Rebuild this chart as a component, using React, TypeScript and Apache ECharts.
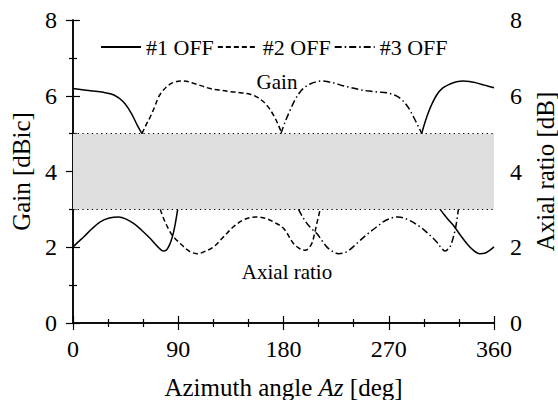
import React, { useEffect, useRef } from "react";
import * as echarts from "echarts";

const FONT = "'Liberation Serif', 'Times New Roman', serif";

const xTicks = [0, 90, 180, 270, 360];
const yTicks = [0, 2, 4, 6, 8];
const legendNames = ["#1 OFF", "#2 OFF", "#3 OFF"];
const bandRange = [3, 5];

// Gain [dBic] curves (azimuth deg, value)
const gain1a = [[0, 6.19], [8, 6.16], [15, 6.13], [26, 6.09], [35, 6.02], [43, 5.84], [50, 5.53], [55, 5.22], [59, 5.0]];
const gain1b = [[298.2, 5.0], [300, 5.2], [302.5, 5.44], [306, 5.72], [311, 6.02], [316, 6.2], [322.4, 6.31], [328, 6.37], [333.8, 6.39], [340, 6.37], [345, 6.34], [352, 6.28], [360, 6.21]];
const gain2 = [[59, 5.0], [62, 5.2], [66, 5.44], [70, 5.72], [73.2, 5.97], [77, 6.14], [81.7, 6.28], [86, 6.35], [91.7, 6.39], [97, 6.38], [103, 6.33], [110, 6.26], [117.3, 6.19], [125, 6.15], [134.4, 6.11], [143, 6.08], [151.5, 6.04], [157, 5.97], [162.9, 5.84], [167, 5.7], [171.4, 5.49], [175, 5.27], [178.6, 5.0]];
const gain3 = [[177.8, 5.0], [181, 5.28], [185.7, 5.62], [190, 5.9], [194.2, 6.1], [198, 6.22], [202.8, 6.31], [207, 6.36], [212.8, 6.39], [218, 6.37], [224.1, 6.33], [230, 6.27], [237, 6.22], [244, 6.17], [251.2, 6.13], [260, 6.1], [268.3, 6.08], [272, 6.05], [276.9, 5.99], [281, 5.9], [285.4, 5.75], [289, 5.57], [292.5, 5.36], [296, 5.15], [298.2, 5.0]];

// Axial ratio [dB] curves
const ar1a = [[0, 2.01], [4, 2.13], [9.1, 2.27], [16, 2.48], [23.3, 2.67], [31, 2.77], [39, 2.8], [45, 2.75], [51.8, 2.63], [58, 2.47], [66.1, 2.23], [72, 2.03], [77.4, 1.9], [80, 1.93], [81.7, 2.01], [84, 2.18], [86, 2.4], [87.8, 2.68], [89.5, 3.0]];
const ar1b = [[313.9, 3.0], [317, 2.88], [320, 2.76], [325.2, 2.58], [331, 2.33], [336.7, 2.1], [342, 1.93], [348, 1.83], [352, 1.84], [356, 1.91], [360, 2.01]];
const ar2 = [[74.6, 3.0], [78, 2.72], [83.1, 2.4], [87, 2.24], [91.7, 2.1], [97, 1.95], [101, 1.87], [106, 1.83], [112, 1.88], [120.2, 2.01], [128, 2.25], [137.2, 2.54], [145, 2.71], [151, 2.78], [157.2, 2.8], [165, 2.76], [172, 2.66], [180, 2.5], [188.5, 2.1], [194, 1.96], [198.5, 1.92], [201, 1.96], [204.2, 2.1], [206.5, 2.35], [208.5, 2.63], [210, 2.82], [211.3, 3.0]];
const ar3 = [[192.8, 3.0], [196, 2.82], [200, 2.63], [204, 2.49], [208.5, 2.36], [213, 2.17], [217, 2.01], [222, 1.89], [227, 1.83], [234, 1.88], [242.7, 2.1], [251, 2.33], [259.8, 2.54], [268, 2.72], [278.2, 2.8], [287, 2.72], [296.8, 2.54], [304, 2.35], [311, 2.14], [315, 1.98], [318.1, 1.9], [320, 1.93], [322.4, 2.01], [324.6, 2.2], [326.7, 2.45], [328.3, 2.72], [329.5, 3.0]];

const styles: Record<string, any> = {
  "#1 OFF": "solid",
  "#2 OFF": [5, 3],
  "#3 OFF": [7, 3, 1.5, 3],
};

function lineSeries(name: string, data: number[][]) {
  return {
    type: "line",
    name,
    data,
    smooth: 0.35,
    symbol: "none",
    z: 3,
    lineStyle: { color: "#000", width: 1.5, type: styles[name] },
    itemStyle: { color: "#000" },
  };
}

export default function App() {
  const ref = useRef<HTMLDivElement>(null);
  useEffect(() => {
    document.body.style.margin = "0";
    const chart = echarts.init(ref.current!, undefined, { renderer: "svg" });
    const axisLine = { show: true, lineStyle: { color: "#000", width: 1.5 } };
    const label = { color: "#000", fontSize: 24, fontFamily: FONT, margin: 14 };
    const nameStyle = { color: "#000", fontSize: 25, fontFamily: FONT };
    const xBase = {
      type: "value",
      min: xTicks[0],
      max: xTicks[xTicks.length - 1],
      interval: 90,
      axisLine,
      axisTick: { show: true, inside: true, length: 7, lineStyle: { color: "#000", width: 1.2 } },
      minorTick: { show: true, splitNumber: 3, length: 4, lineStyle: { color: "#000", width: 1.2 } },
      splitLine: { show: false },
    };
    const yBase = {
      type: "value",
      min: yTicks[0],
      max: yTicks[yTicks.length - 1],
      interval: 2,
      axisLine,
      axisTick: { show: true, inside: true, length: 7, lineStyle: { color: "#000", width: 1.2 } },
      minorTick: { show: true, splitNumber: 2, length: 4, lineStyle: { color: "#000", width: 1.2 } },
      splitLine: { show: false },
      axisLabel: { ...label, margin: 16 },
      nameLocation: "middle",
      nameGap: 36,
      nameTextStyle: nameStyle,
    };
    const option: any = {
      animation: false,
      backgroundColor: "#fff",
      grid: { left: 73, right: 64, top: 20, bottom: 77, containLabel: false, outerBoundsMode: "none" },
      legend: {
        data: legendNames,
        left: 100,
        top: 36,
        padding: 0,
        itemWidth: 40,
        itemHeight: 14,
        itemGap: 3,
        itemStyle: { opacity: 0, borderWidth: 0 },
        textStyle: { color: "#000", fontSize: 22, fontFamily: FONT },
      },
      xAxis: [
        {
          ...xBase,
          position: "bottom",
          axisLabel: label,
          name: "{n|Azimuth angle }{i|Az}{n| [deg]}",
          nameLocation: "middle",
          nameGap: 52,
          nameTextStyle: {
            ...nameStyle,
            rich: {
              n: { ...nameStyle },
              i: { ...nameStyle, fontStyle: "italic" },
            },
          },
        },
        { ...xBase, position: "top", axisLabel: { show: false } },
      ],
      yAxis: [
        { ...yBase, position: "left", name: "Gain [dBic]" },
        { ...yBase, position: "right", name: "Axial ratio [dB]" },
      ],
      graphic: [
        { type: "text", x: 277, y: 82, style: { text: "Gain", font: `21px ${FONT}`, fill: "#000", textAlign: "center", textVerticalAlign: "middle" } },
        { type: "text", x: 287, y: 272, style: { text: "Axial ratio", font: `21px ${FONT}`, fill: "#000", textAlign: "center", textVerticalAlign: "middle" } },
      ],
      series: [
        {
          type: "line",
          name: "band",
          data: [],
          z: 1,
          markArea: {
            silent: true,
            itemStyle: { color: "#dedede" },
            data: [[{ yAxis: bandRange[0] }, { yAxis: bandRange[1] }]],
          },
          markLine: {
            silent: true,
            symbol: "none",
            label: { show: false },
            lineStyle: { color: "#000", width: 1.2, type: [1.3, 3.4] },
            data: [{ yAxis: bandRange[0] }, { yAxis: bandRange[1] }],
          },
        },
        lineSeries("#1 OFF", gain1a),
        lineSeries("#1 OFF", gain1b),
        lineSeries("#1 OFF", ar1a),
        lineSeries("#1 OFF", ar1b),
        lineSeries("#2 OFF", gain2),
        lineSeries("#2 OFF", ar2),
        lineSeries("#3 OFF", gain3),
        lineSeries("#3 OFF", ar3),
      ],
    };
    chart.setOption(option);
    return () => chart.dispose();
  }, []);
  return <div ref={ref} style={{ width: 558, height: 400 }} />;
}
